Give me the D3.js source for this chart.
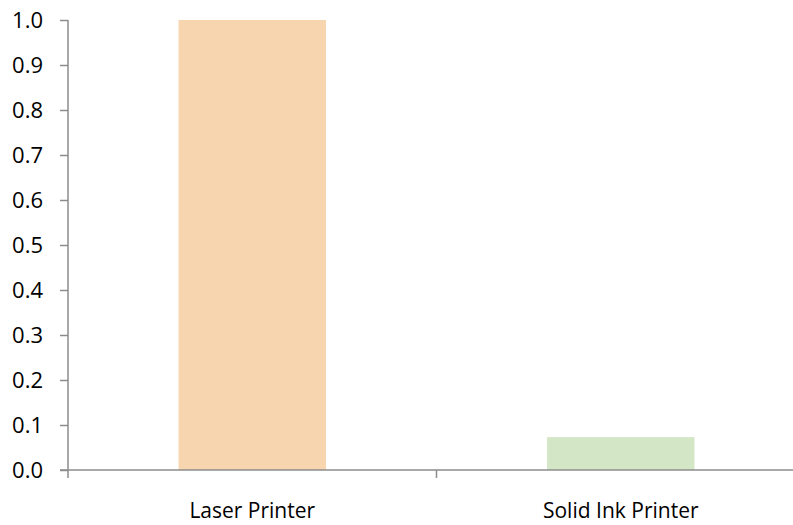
<!DOCTYPE html>
<html><head><meta charset="utf-8">
<script src="https://cdn.jsdelivr.net/npm/d3@7"></script>
<style>body{margin:0;background:#fff}text{font-family:"Open Sans",sans-serif}</style>
</head><body><svg id="c" width="793" height="525"></svg>
<script>
const categories = ["Laser Printer", "Solid Ink Printer"];
const values = [1.0, 0.073];
const colors = ["#F7D5AE", "#D3E6C6"];
const yTicks = [0,0.1,0.2,0.3,0.4,0.5,0.6,0.7,0.8,0.9,1.0];

const svg = d3.select("#c");
const x0 = 68, x1 = 805, yTop = 20, yBot = 470;
const x = d3.scaleBand().domain(categories).range([x0, x1]).paddingInner(0).paddingOuter(0);
const y = d3.scaleLinear().domain([0, 1]).range([yBot, yTop]);
const bw = x.bandwidth() * 0.4;

svg.selectAll("rect.bar").data(categories).enter().append("rect")
  .attr("x", d => x(d) + (x.bandwidth() - bw) / 2)
  .attr("width", bw)
  .attr("y", (d, i) => y(values[i]))
  .attr("height", (d, i) => yBot - y(values[i]))
  .attr("fill", (d, i) => colors[i]);

const axisColor = "#8c8c8c";
// y axis
const ya = svg.append("g").attr("transform", `translate(${x0},0)`)
  .call(d3.axisLeft(y).tickValues(yTicks).tickFormat(d3.format(".1f")).tickSize(8).tickPadding(17));
ya.select(".domain").attr("stroke", axisColor).attr("stroke-width", 1.5).attr("d", `M0,${yTop}V${yBot}`);
ya.selectAll(".tick line").attr("stroke", axisColor).attr("stroke-width", 1.5);
ya.selectAll(".tick text").attr("fill", "#000").style("font-size", "22px").attr("font-family", null).attr("dy", "0.36em");

// x axis
const xa = svg.append("g").attr("transform", `translate(0,${yBot})`);
xa.append("line").attr("x1", x0 - 8).attr("x2", 793).attr("y1", 0).attr("y2", 0)
  .attr("stroke", axisColor).attr("stroke-width", 1.5);
const bounds = [x0, ...categories.map(c => x(c) + x.bandwidth())];
xa.selectAll("line.t").data(bounds).enter().append("line")
  .attr("x1", d => d).attr("x2", d => d).attr("y1", 0).attr("y2", 8)
  .attr("stroke", axisColor).attr("stroke-width", 1.5);
xa.selectAll("text.l").data(categories).enter().append("text")
  .attr("x", d => x(d) + x.bandwidth() / 2).attr("y", 48)
  .attr("text-anchor", "middle").style("font-size", "21px").attr("fill", "#000")
  .text(d => d);
</script></body></html>
